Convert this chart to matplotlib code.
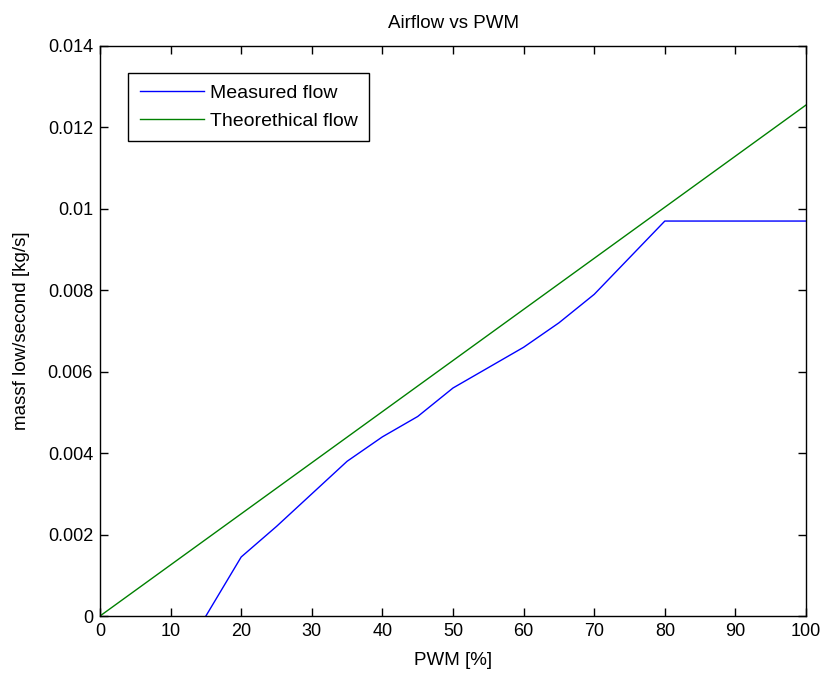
import matplotlib.pyplot as plt
import numpy as np

plt.rcParams['font.family'] = ['Liberation Sans', 'DejaVu Sans']

# measured mass flow vs PWM duty
pwm_measured = [15, 20, 25, 30, 35, 40, 45, 50, 55, 60, 65, 70, 75, 80, 100]
flow_measured = [0, 0.00145, 0.0022, 0.0030, 0.0038, 0.0044, 0.0049, 0.0056,
                 0.0061, 0.0066, 0.0072, 0.0079, 0.0088, 0.0097, 0.0097]

# theoretical flow (straight line)
pwm_theory = [0, 100]
flow_theory = [0, 0.01255]

x_ticks = list(range(0, 101, 10))
y_ticks = [0, 0.002, 0.004, 0.006, 0.008, 0.01, 0.012, 0.014]
y_ticklabels = ['0', '0.002', '0.004', '0.006', '0.008', '0.01', '0.012', '0.014']

fig = plt.figure(figsize=(8.25, 6.75), dpi=100)
ax = fig.add_axes([0.1212, 0.0874, 0.8558, 0.8445])

ax.plot(pwm_measured, flow_measured, color='#0000ff', lw=1.0, label='Measured flow')
ax.plot(pwm_theory, flow_theory, color='#008000', lw=1.0, label='Theorethical flow')

ax.set_xlim(0, 100)
ax.set_ylim(0, 0.014)
ax.set_xticks(x_ticks)
ax.set_yticks(y_ticks)
ax.set_yticklabels(y_ticklabels)
ax.tick_params(direction='in', top=True, right=True, labelsize=13, length=6, width=1, pad=5)
for s in ax.spines.values():
    s.set_linewidth(1.0)

ax.set_title('Airflow vs PWM', fontsize=13.5, pad=13)
ax.set_xlabel('PWM [%]', fontsize=13.5, labelpad=9)
ax.set_ylabel('massf low/second [kg/s]', fontsize=13.5, labelpad=13)

leg = ax.legend(loc='upper left', bbox_to_anchor=(0.0397, 0.9526), borderaxespad=0,
                fancybox=False, edgecolor='black', framealpha=1, fontsize=14,
                handlelength=3.3, borderpad=0.6, labelspacing=0.5, handletextpad=0.3)
leg.get_frame().set_linewidth(1.0)

fig.savefig('out.png', dpi=100)
